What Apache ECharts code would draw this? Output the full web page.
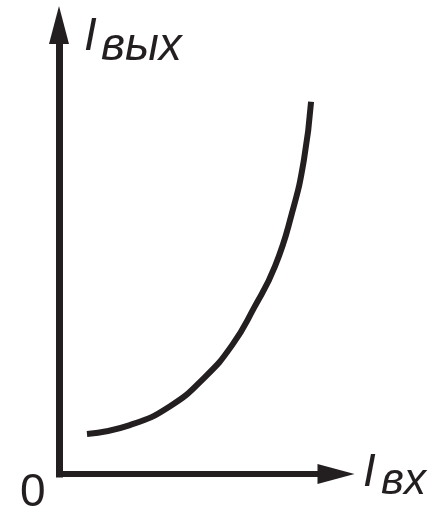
<!DOCTYPE html>
<html>
<head>
<meta charset="utf-8">
<script src="https://cdn.jsdelivr.net/npm/echarts@6/dist/echarts.min.js"></script>
<style>
  html, body { margin: 0; padding: 0; background: #fff; }
  #chart { width: 444px; height: 514px; }
</style>
</head>
<body>
<div id="chart"></div>
<script>
// input current (x) vs output current (y), arbitrary units 0..100
const iIn = [10.1, 25.6, 40.1, 52.7, 62.5, 70.4, 78.0, 84.1, 88.4, 91.0];
const iOut = [8.9, 10.9, 15.1, 21.6, 28.7, 37.0, 46.3, 58.1, 69.9, 82.9];

const ink = '#231f20';
const font = '"Liberation Sans", Arial, sans-serif';

const chart = echarts.init(document.getElementById('chart'));

const axisCommon = {
  type: 'value',
  min: 0,
  max: 100,
  axisTick: { show: false },
  axisLabel: { show: false },
  splitLine: { show: false }
};

chart.setOption({
  animation: false,
  grid: { left: 59, right: 108, top: 25, bottom: 40 },
  xAxis: Object.assign({}, axisCommon, {
    axisLine: {
      show: true,
      symbol: ['none', 'triangle'],
      symbolSize: [20, 37],
      lineStyle: { color: ink, width: 6, cap: 'square' }
    }
  }),
  yAxis: Object.assign({}, axisCommon, {
    axisLine: {
      show: true,
      symbol: ['none', 'triangle'],
      symbolSize: [20, 38],
      lineStyle: { color: ink, width: 7, cap: 'square' }
    }
  }),
  series: [{
    type: 'line',
    data: iIn.map((x, i) => [x, iOut[i]]),
    smooth: 0.5,
    showSymbol: false,
    lineStyle: { color: ink, width: 6 }
  }],
  graphic: [
    { type: 'text', left: 84, top: 14, style: { text: 'I', font: 'italic 46px ' + font, fill: ink } },
    { type: 'text', left: 101, top: 24, style: { text: 'вых', font: 'italic 46px ' + font, fill: ink } },
    { type: 'text', left: 363, top: 450, style: { text: 'I', font: 'italic 46px ' + font, fill: ink } },
    { type: 'text', left: 381, top: 460, style: { text: 'вх', font: 'italic 44px ' + font, fill: ink } },
    { type: 'text', left: 20, top: 470, style: { text: '0', font: '46px ' + font, fill: ink } }
  ]
});
</script>
</body>
</html>
